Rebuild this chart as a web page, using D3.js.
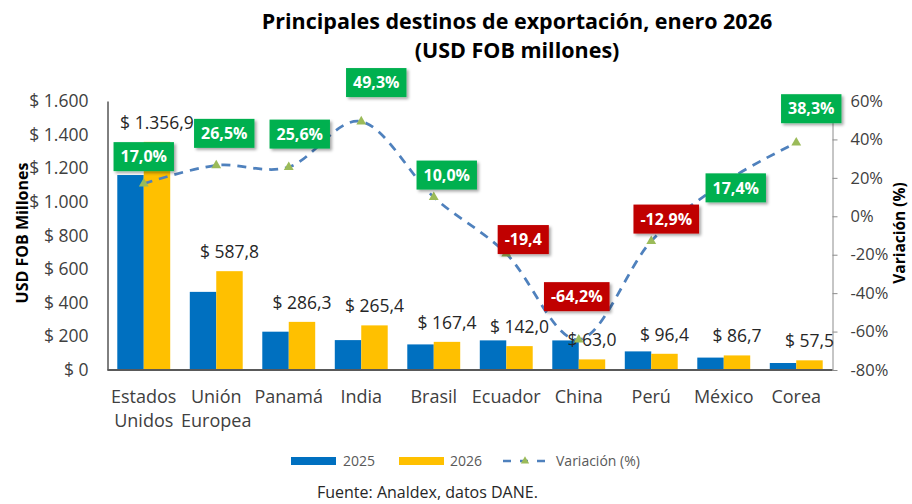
<!DOCTYPE html>
<html>
<head>
<meta charset="utf-8">
<script src="https://cdn.jsdelivr.net/npm/d3@7"></script>
<style>
body{margin:0;background:#fff;}
svg text{font-family:"Open Sans",sans-serif;}
</style>
</head>
<body>
<script>
//Data
var categories = ["Estados Unidos","Unión Europea","Panamá","India","Brasil","Ecuador","China","Perú","México","Corea"]
    values2025 = [1159.7, 464.7, 227.9, 177.8, 152.2, 176.2, 176.0, 110.7, 73.8, 41.6]
    values2026 = [1356.9, 587.8, 286.3, 265.4, 167.4, 142.0, 63.0, 96.4, 86.7, 57.5]
    variation = [17.0, 26.5, 25.6, 49.3, 10.0, -19.4, -64.2, -12.9, 17.4, 38.3]
    variationLabels = ["17,0%","26,5%","25,6%","49,3%","10,0%","-19,4","-64,2%","-12,9%","17,4%","38,3%"]
    leftTicks = [0, 200, 400, 600, 800, 1000, 1200, 1400, 1600]
    rightTicks = [-80, -60, -40, -20, 0, 20, 40, 60]
    seriesNames = ["2025","2026"];

//Where the percentage boxes sit relative to their point (moved by hand in the original)
var labelShift = [[0,-27],[8,-32],[11,-33],[15,-39],[13,-22],[17,-14],[-2,-43],[15,-22],[12,5],[15,-34]];

var colors = {"2025":"#0070C0","2026":"#FFC000"},
    lineColor = "#4F81BD",
    markerColor = "#9BBB59",
    textColor = "#404040";

var svg = d3.select("body").append("svg")
    .attr("width", 912)
    .attr("height", 504);

//Drop shadow for the label boxes
svg.append("defs").append("filter")
    .attr("id","shadow")
    .attr("x","-20%").attr("y","-20%").attr("width","150%").attr("height","160%")
  .append("feDropShadow")
    .attr("dx",2).attr("dy",2).attr("stdDeviation",1.5)
    .attr("flood-color","#000").attr("flood-opacity",0.35);

var plot = {left: 107.5, right: 832.5, top: 101, bottom: 370};

//Scales
var x = d3.scaleBand().domain(categories).range([plot.left, plot.right]).paddingInner(0.27).paddingOuter(0.135),
    x1 = d3.scaleBand().domain(seriesNames).range([0, x.bandwidth()]),
    y = d3.scaleLinear().domain([0, 1600]).range([plot.bottom, plot.top]),
    y2 = d3.scaleLinear().domain([-80, 60]).range([plot.bottom, plot.top]);

var locale = d3.formatLocale({decimal: ",", thousands: ".", grouping: [3], currency: ["$ ", ""]}),
    fmtTick = locale.format("$,.0f"),
    fmtValue = locale.format("$,.1f");

//Title
var title = svg.append("text")
    .attr("text-anchor","middle")
    .style("font-weight","bold")
    .style("font-size","21.5px")
    .attr("fill","#000");
title.append("tspan").attr("x",517).attr("y",29).text("Principales destinos de exportación, enero 2026");
title.append("tspan").attr("x",517).attr("y",58).text("(USD FOB millones)");

//Bars
var rows = categories.map(function(c, i){ return {cat: c, values: [values2025[i], values2026[i]]}; });

var groups = svg.selectAll(".group")
    .data(rows)
    .enter().append("g")
      .attr("class","group")
      .attr("transform", function(d){ return "translate(" + x(d.cat) + ",0)"; });

groups.selectAll("rect")
    .data(function(d){ return d.values.map(function(v, j){ return {key: seriesNames[j], value: v}; }); })
    .enter().append("rect")
      .attr("x", function(d){ return x1(d.key); })
      .attr("y", function(d){ return y(d.value); })
      .attr("width", x1.bandwidth())
      .attr("height", function(d){ return plot.bottom - y(d.value); })
      .attr("fill", function(d){ return colors[d.key]; });

//Left axis
var leftAxis = svg.append("g")
    .attr("transform","translate(" + plot.left + ",0)")
    .call(d3.axisLeft(y).tickValues(leftTicks).tickFormat(fmtTick).tickSize(0).tickPadding(19));
leftAxis.select(".domain").attr("stroke","#000").attr("stroke-width",1);
leftAxis.selectAll("text").style("font-size","17.5px").attr("fill",textColor);

//Right axis
var rightAxis = svg.append("g")
    .attr("transform","translate(" + plot.right + ",0)")
    .call(d3.axisRight(y2).tickValues(rightTicks).tickFormat(function(d){ return d + "%"; }).tickSizeInner(5).tickSizeOuter(0).tickPadding(13));
rightAxis.select(".domain").attr("stroke","#8c8c8c");
rightAxis.selectAll("line").attr("stroke","#8c8c8c");
rightAxis.selectAll("text").style("font-size","16.5px").attr("fill",textColor);

//Bottom axis line and category labels
svg.append("line")
    .attr("x1", plot.left).attr("x2", plot.right)
    .attr("y1", plot.bottom).attr("y2", plot.bottom)
    .attr("stroke","#595959").attr("stroke-width",2);

svg.selectAll(".cat")
    .data(categories)
    .enter().append("text")
      .attr("class","cat")
      .attr("text-anchor","middle")
      .style("font-size","18px")
      .attr("fill",textColor)
      .each(function(d){
        var t = d3.select(this), cx = x(d) + x.bandwidth()/2;
        d.split(" ").forEach(function(w, k){
          t.append("tspan").attr("x", cx).attr("y", 403 + k*24).text(w);
        });
      });

//Axis titles
svg.append("text")
    .attr("transform","translate(28,233) rotate(-90)")
    .attr("text-anchor","middle")
    .style("font-weight","bold").style("font-size","16px")
    .attr("fill","#000")
    .text("USD FOB Millones");

svg.append("text")
    .attr("transform","translate(905,233) rotate(-90)")
    .attr("text-anchor","middle")
    .style("font-weight","bold").style("font-size","15.5px")
    .attr("fill","#000")
    .text("Variación (%)");

//Value labels above the 2026 bars
svg.selectAll(".value")
    .data(rows)
    .enter().append("text")
      .attr("class","value")
      .attr("text-anchor","middle")
      .attr("x", function(d){ return x(d.cat) + x1("2026") + x1.bandwidth()/2; })
      .attr("y", function(d){ return y(d.values[1]) - 13; })
      .style("font-size","17.5px")
      .attr("fill","#262626")
      .text(function(d){ return fmtValue(d.values[1]); });

//Variation line (smoothed, dashed)
var pts = categories.map(function(c, i){ return [x(c) + x.bandwidth()/2, y2(variation[i])]; });

svg.append("path")
    .datum(pts)
    .attr("fill","none")
    .attr("stroke", lineColor)
    .attr("stroke-width", 2.75)
    .attr("stroke-dasharray","9,7")
    .attr("d", d3.line().curve(d3.curveCatmullRom.alpha(0)));

svg.selectAll(".marker")
    .data(pts)
    .enter().append("path")
      .attr("class","marker")
      .attr("transform", function(d){ return "translate(" + d[0] + "," + d[1] + ")"; })
      .attr("d", d3.symbol().type(d3.symbolTriangle).size(42))
      .attr("fill", markerColor);

//Variation label boxes
var boxes = svg.selectAll(".vbox")
    .data(variation)
    .enter().append("g")
      .attr("class","vbox")
      .attr("transform", function(d, i){ return "translate(" + (pts[i][0] + labelShift[i][0]) + "," + (pts[i][1] + labelShift[i][1]) + ")"; });

boxes.append("rect")
    .attr("fill", function(d){ return d < 0 ? "#C00000" : "#00B050"; })
    .attr("filter","url(#shadow)");

boxes.append("text")
    .attr("text-anchor","middle")
    .attr("dy","0.36em")
    .style("font-weight","bold")
    .style("font-size","16px")
    .attr("fill","#fff")
    .text(function(d, i){ return variationLabels[i]; })
    .each(function(){
      var w = this.getComputedTextLength() + 14;
      d3.select(this.previousSibling)
        .attr("x", -w/2).attr("y", -14.5)
        .attr("width", w).attr("height", 29);
    });

//Legend
var legend = svg.append("g").attr("class","legend");
seriesNames.forEach(function(s, i){
  legend.append("rect")
      .attr("x", 291 + i*108).attr("y", 457)
      .attr("width", 45).attr("height", 8)
      .attr("fill", colors[s]);
  legend.append("text")
      .attr("x", 343 + i*107).attr("y", 466)
      .style("font-size","14px").attr("fill","#595959")
      .text(s);
});
legend.append("line")
    .attr("x1", 503).attr("x2", 546).attr("y1", 461).attr("y2", 461)
    .attr("stroke", lineColor).attr("stroke-width", 2.5)
    .attr("stroke-dasharray","8,9");
legend.append("path")
    .attr("transform","translate(525,461)")
    .attr("d", d3.symbol().type(d3.symbolTriangle).size(30))
    .attr("fill", markerColor);
legend.append("text")
    .attr("x", 556).attr("y", 466)
    .style("font-size","14px").attr("fill","#595959")
    .text("Variación (%)");

//Source note
svg.append("text")
    .attr("x", 317).attr("y", 498)
    .style("font-size","16px").attr("fill","#262626")
    .text("Fuente: Analdex, datos DANE.");
</script>
</body>
</html>
